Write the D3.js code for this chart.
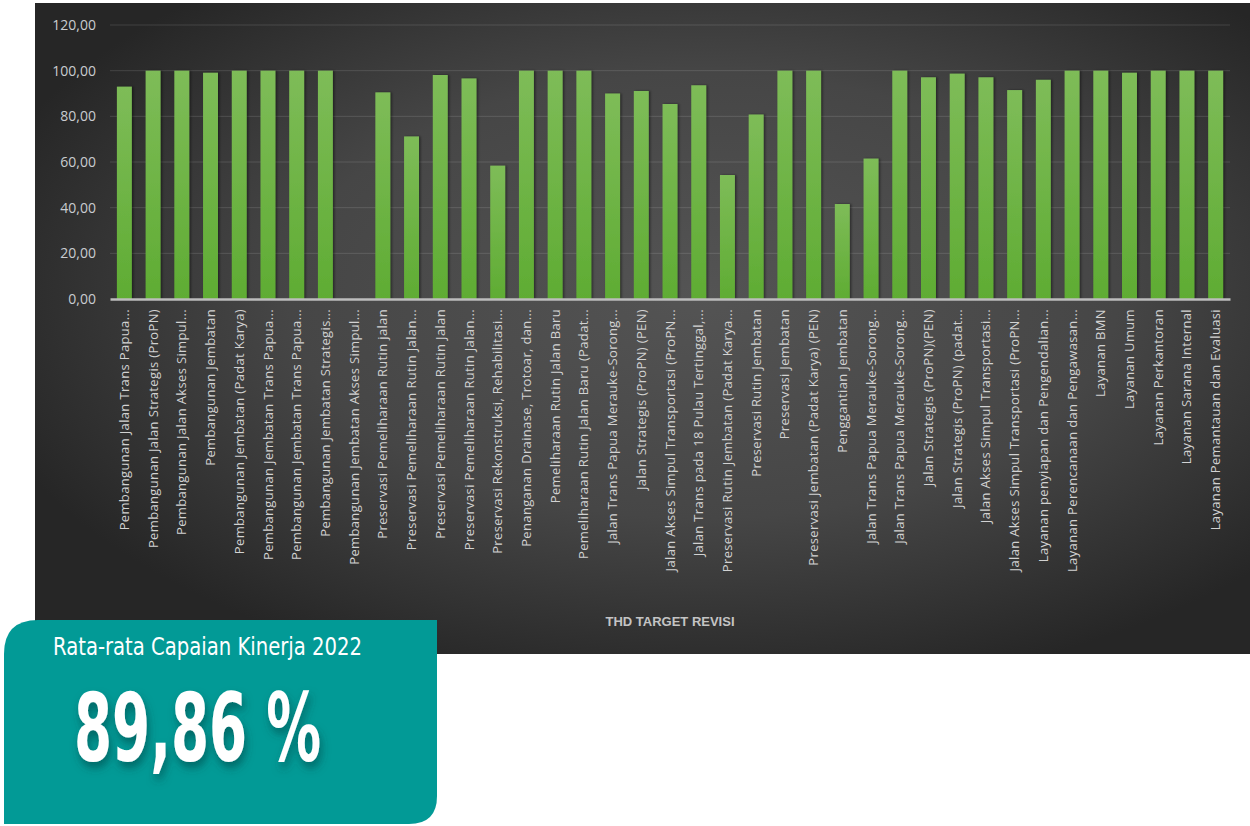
<!DOCTYPE html>
<html>
<head>
<meta charset="utf-8">
<script src="https://cdn.jsdelivr.net/npm/d3@7"></script>
<style>
  html, body { margin: 0; padding: 0; background: #ffffff; }
  svg { display: block; }
</style>
</head>
<body>
<script>
// Program / activity names as shown on the category axis
const categories = [
  "Pembangunan Jalan Trans Papua...",
  "Pembangunan Jalan Strategis (ProPN)",
  "Pembangunan Jalan Akses Simpul...",
  "Pembangunan Jembatan",
  "Pembangunan Jembatan (Padat Karya)",
  "Pembangunan Jembatan Trans Papua...",
  "Pembangunan Jembatan Trans Papua...",
  "Pembangunan Jembatan Strategis...",
  "Pembangunan Jembatan Akses Simpul...",
  "Preservasi Pemeliharaan Rutin jalan",
  "Preservasi Pemeliharaan Rutin Jalan...",
  "Preservasi Pemeliharaan Rutin Jalan",
  "Preservasi Pemeliharaan Rutin Jalan...",
  "Preservasi Rekonstruksi, Rehabilitasi...",
  "Penanganan Drainase, Trotoar, dan...",
  "Pemeliharaan Rutin Jalan Baru",
  "Pemeliharaan Rutin Jalan Baru (Padat...",
  "Jalan Trans Papua Merauke-Sorong...",
  "Jalan Strategis (ProPN) (PEN)",
  "Jalan Akses Simpul Transportasi (ProPN...",
  "Jalan Trans pada 18 Pulau Tertinggal,...",
  "Preservasi Rutin Jembatan (Padat Karya...",
  "Preservasi Rutin Jembatan",
  "Preservasi Jembatan",
  "Preservasi Jembatan (Padat Karya) (PEN)",
  "Penggantian Jembatan",
  "Jalan Trans Papua Merauke-Sorong...",
  "Jalan Trans Papua Merauke-Sorong...",
  "Jalan Strategis (ProPN)(PEN)",
  "Jalan Strategis (ProPN) (padat...",
  "Jalan Akses Simpul Transportasi...",
  "Jalan Akses Simpul Transportasi (ProPN...",
  "Layanan penyiapan dan Pengendalian...",
  "Layanan Perencanaan dan Pengawasan...",
  "Layanan BMN",
  "Layanan Umum",
  "Layanan Perkantoran",
  "Layanan Sarana Internal",
  "Layanan Pemantauan dan Evaluasi"
];

// Achievement against revised target (%)
const values = [
  93.0, 100, 100, 99.1, 100, 100, 100, 100, 0,
  90.5, 71.2, 98.1, 96.6, 58.4, 100, 100, 100,
  90.0, 91.1, 85.4, 93.6, 54.3, 80.8, 100, 100, 41.6,
  61.5, 100, 97.1, 98.7, 97.1, 91.5, 96.0, 100,
  100, 99.1, 100, 100, 100
];

const yTicks = [0, 20, 40, 60, 80, 100, 120];
const axisTitle = "THD TARGET REVISI";
const badgeTitle = "Rata-rata Capaian Kinerja 2022";
const badgeValue = "89,86 %";

const W = 1250, H = 826;
const svg = d3.select("body").append("svg").attr("width", W).attr("height", H);
const defs = svg.append("defs");

// Dark panel background
const bg = defs.append("radialGradient").attr("id", "bgGrad")
  .attr("cx", "55%").attr("cy", "45%").attr("r", "62%");
bg.append("stop").attr("offset", "0%").attr("stop-color", "#545454");
bg.append("stop").attr("offset", "55%").attr("stop-color", "#464646");
bg.append("stop").attr("offset", "100%").attr("stop-color", "#262626");

const barGrad = defs.append("linearGradient").attr("id", "barGrad")
  .attr("x1", 0).attr("y1", 0).attr("x2", 0).attr("y2", 1);
barGrad.append("stop").attr("offset", "0%").attr("stop-color", "#7ebc58");
barGrad.append("stop").attr("offset", "100%").attr("stop-color", "#5fac33");

const barShadow = defs.append("filter").attr("id", "barShadow")
  .attr("x", "-30%").attr("y", "-5%").attr("width", "160%").attr("height", "110%");
barShadow.append("feDropShadow").attr("dx", 1.5).attr("dy", 0).attr("stdDeviation", 1.2)
  .attr("flood-color", "#000").attr("flood-opacity", 0.45);

const textShadow = defs.append("filter").attr("id", "textShadow")
  .attr("x", "-20%").attr("y", "-20%").attr("width", "140%").attr("height", "150%");
textShadow.append("feDropShadow").attr("dx", 2).attr("dy", 6).attr("stdDeviation", 4)
  .attr("flood-color", "#00403e").attr("flood-opacity", 0.55);

svg.append("rect").attr("x", 35).attr("y", 3).attr("width", W - 35).attr("height", 651)
  .attr("fill", "url(#bgGrad)");

// Scales
const x = d3.scaleBand().domain(d3.range(categories.length)).range([110, 1230])
  .paddingInner(0.48).paddingOuter(0.24);
const y = d3.scaleLinear().domain([0, 120]).range([299, 25]);

// Gridlines
svg.append("g").selectAll("line").data(yTicks.filter(d => d > 0)).join("line")
  .attr("x1", 110).attr("x2", 1230)
  .attr("y1", d => y(d)).attr("y2", d => y(d))
  .attr("stroke", "#ffffff").attr("stroke-opacity", 0.13).attr("stroke-width", 1);

// Y axis labels
const yAxis = d3.axisLeft(y).tickValues(yTicks).tickSize(0).tickPadding(14)
  .tickFormat(d => d3.format(".2f")(d).replace(".", ","));
const gy = svg.append("g").attr("transform", "translate(110,0)").call(yAxis);
gy.select(".domain").remove();
gy.selectAll("text").attr("fill", "#c9ccd0").attr("font-size", 14)
  .attr("font-family", "'Open Sans', sans-serif");

// Bars
svg.append("g").selectAll("rect").data(values).join("rect")
  .attr("x", (d, i) => x(i))
  .attr("y", d => y(d))
  .attr("width", x.bandwidth())
  .attr("height", d => y(0) - y(d))
  .attr("fill", "url(#barGrad)")
  .attr("filter", "url(#barShadow)");

// Category axis
const xAxis = d3.axisBottom(x).tickSize(0).tickPadding(0).tickFormat(i => categories[i]);
const gx = svg.append("g").attr("transform", `translate(0,${y(0)})`).call(xAxis);
gx.select(".domain").attr("stroke", "#bdbdbd").attr("stroke-width", 2.5);
gx.selectAll("text")
  .attr("fill", "#d2d2d2").attr("font-size", 13)
  .attr("letter-spacing", "0.35px")
  .attr("font-family", "'Open Sans', sans-serif")
  .attr("text-anchor", "end")
  .attr("dy", "0.35em")
  .attr("transform", "translate(0,10) rotate(-90)")
  .attr("x", 0).attr("y", 0);

svg.append("text").attr("x", 670).attr("y", 626).attr("text-anchor", "middle")
  .attr("fill", "#c4c4c4").attr("font-size", 13).attr("font-weight", "bold")
  .attr("font-family", "'Liberation Sans', Arial, sans-serif")
  .text(axisTitle);

// Average badge
const bx0 = 4, by0 = 620, bx1 = 437, by1 = 824, r1 = 34, r2 = 28;
svg.append("path")
  .attr("d", `M${bx0},${by0 + r1} Q${bx0},${by0} ${bx0 + r1},${by0} L${bx1},${by0} L${bx1},${by1 - r2} Q${bx1},${by1} ${bx1 - r2},${by1} L${bx0},${by1} Z`)
  .attr("fill", "#029a96");

svg.append("text").attr("x", 53).attr("y", 655)
  .attr("fill", "#ffffff").attr("font-size", 25)
  .attr("font-family", "'Liberation Sans Narrow', 'DejaVu Sans Condensed', sans-serif")
  .attr("textLength", 309).attr("lengthAdjust", "spacingAndGlyphs")
  .text(badgeTitle);

svg.append("text").attr("x", 74).attr("y", 761)
  .attr("fill", "#ffffff").attr("font-size", 94).attr("font-weight", "bold")
  .attr("font-family", "'Liberation Sans Narrow', 'DejaVu Sans Condensed', sans-serif")
  .attr("textLength", 247).attr("lengthAdjust", "spacingAndGlyphs")
  .attr("filter", "url(#textShadow)")
  .text(badgeValue);
</script>
</body>
</html>
